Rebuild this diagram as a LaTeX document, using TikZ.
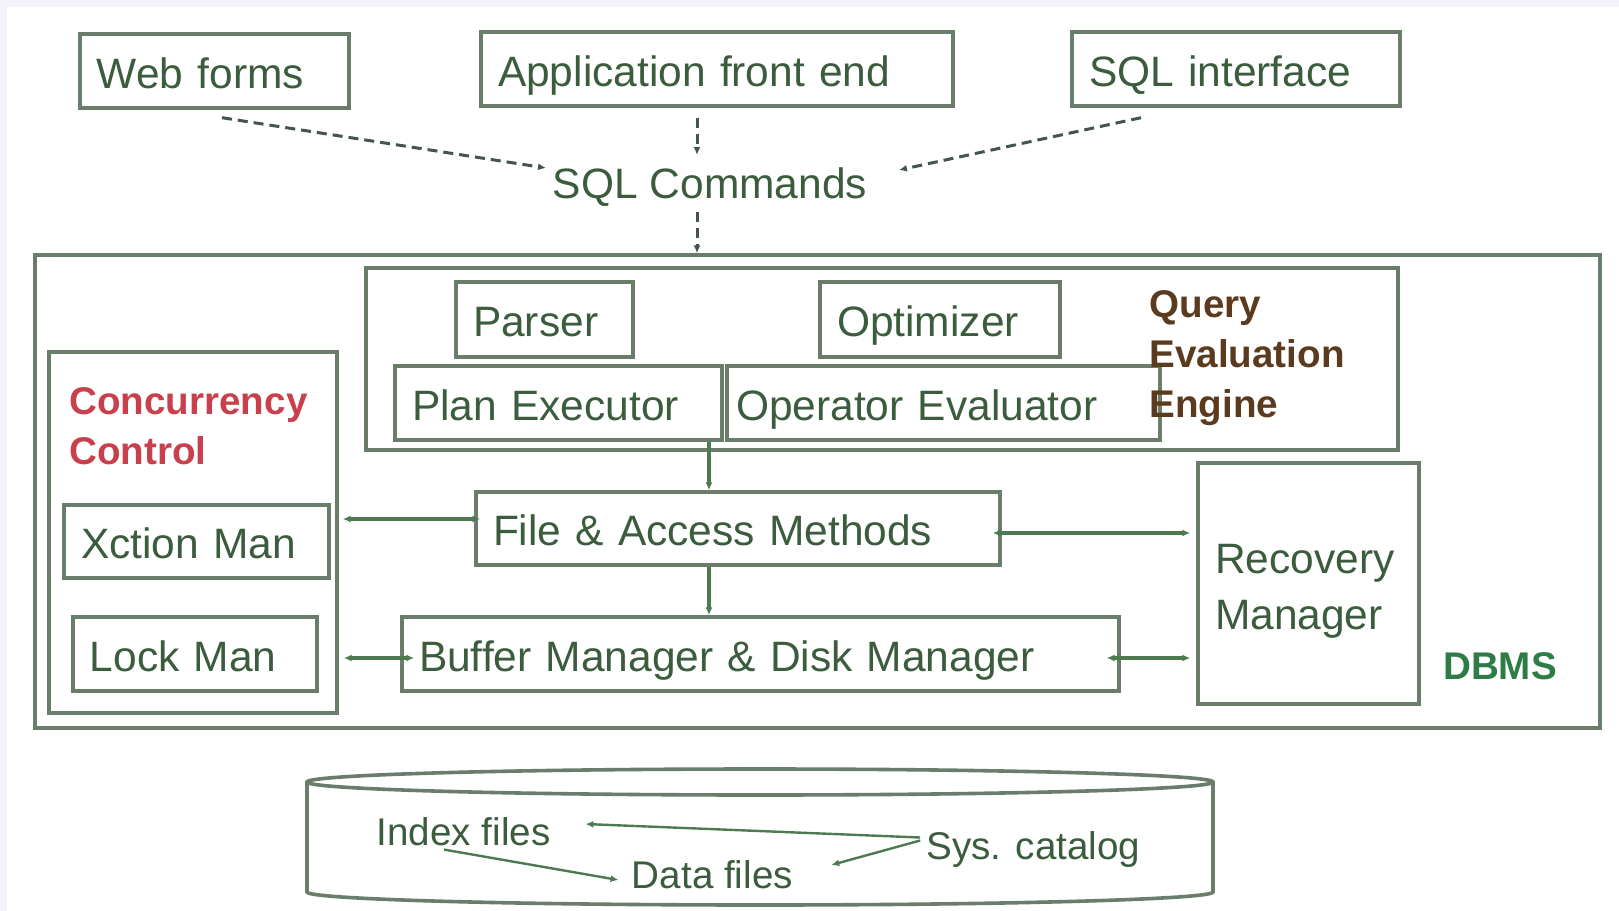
\documentclass[tikz,border=0pt]{standalone}
\usepackage{fontspec}
\setmainfont{Liberation Sans}
\usetikzlibrary{arrows.meta}
\definecolor{bglav}{HTML}{F3F3FC}
\definecolor{boxline}{HTML}{6A7C6A}
\definecolor{txtgreen}{HTML}{3B5C3D}
\definecolor{linkgreen}{HTML}{4E7A52}
\definecolor{dashgray}{HTML}{44554A}
\definecolor{qbrown}{HTML}{5C3A1E}
\definecolor{ccred}{HTML}{C9404D}
\definecolor{dbmsgreen}{HTML}{2E7D46}

\begin{document}
\begin{tikzpicture}[x=0.5pt,y=-0.5pt,
  box/.style={draw=boxline, line width=1.7pt, inner xsep=8.5pt, inner ysep=0pt, align=left,
    text height=21pt, text depth=4pt, text=txtgreen, font=\fontsize{21.25}{28}\selectfont},
  frame/.style={draw=boxline, line width=1.7pt, inner sep=0pt},
  tag/.style={inner sep=0pt, align=left, font=\bfseries\fontsize{19.3}{25}\selectfont},
  disk/.style={inner sep=0pt, text=txtgreen, font=\fontsize{19.3}{23}\selectfont},
  dashlink/.style={draw=dashgray, line width=1.5pt, dash pattern=on 5pt off 3pt, -{Latex[length=4pt,width=3.5pt]}},
  flow/.style={draw=linkgreen, line width=1.6pt, -{Latex[length=4pt,width=3.5pt]}},
  both/.style={flow, {Latex[length=4pt,width=3.5pt]}-{Latex[length=4pt,width=3.5pt]}},
  thin flow/.style={draw=linkgreen, line width=1.2pt, -{Latex[length=4pt,width=3.5pt]}}]
\useasboundingbox (0,0) rectangle (1619,911);
\fill [bglav] (0,0) rectangle (1619,911);
\fill [white] (7,7) rectangle (1619,911);

% front ends
\node [box, text width=117.5pt, minimum height=37pt] (web) at (214.5,71) {Web forms};
\node [box, text width=219pt, minimum height=37pt] (app) at (717,69) {Application front end};
\node [box, text width=147pt, minimum height=37pt] (sqli) at (1236,69) {SQL interface};
\node [inner sep=0pt, text=txtgreen, font=\fontsize{21.25}{25}\selectfont] (sql) at (710,187) {SQL Commands};

% dbms
\node [frame, minimum width=782.5pt, minimum height=236.5pt] (dbms) at (817.5,491.5) {};
\node [frame, minimum width=516pt, minimum height=91pt] (qe) at (882,359) {};
\node [frame, minimum width=144pt, minimum height=180.5pt] (cc) at (193,532.5) {};
\node [box, text width=71.5pt, minimum height=37.5pt] (parser) at (544.5,319.5) {Parser};
\node [box, text width=103pt, minimum height=37.5pt] (opt) at (940,319.5) {Optimizer};
\node [box, text width=146.5pt, minimum height=37pt] (plan) at (558.5,403) {Plan Executor};
\node [box, inner xsep=4.5pt, text width=207.5pt, minimum height=37pt] (oper) at (943.5,403) {Operator Evaluator};
\node [box, text width=115.5pt, minimum height=36.5pt] (xct) at (196.5,541.5) {Xction Man};
\node [box, text width=105pt, minimum height=37pt] (lock) at (195,654) {Lock Man};
\node [box, text width=245pt, minimum height=36.5pt] (file) at (738,528.5) {File \& Access Methods};
\node [box, text width=341.5pt, minimum height=37pt] (buf) at (760.5,654) {Buffer Manager \& Disk Manager};
\node [box, text width=93.5pt, minimum height=120.5pt, text height=16pt, text depth=25.6pt] (rec) at (1308.5,583.5) {Recovery\\Manager};
\node [tag, text=qbrown, anchor=west] (qlabel) at (1149,358) {Query\\Evaluation\\Engine};
\node [tag, text=ccred, anchor=west] (cclabel) at (69,426) {Concurrency\\Control};
\node [tag, text=dbmsgreen] (dbmslabel) at (1500,666) {DBMS};

% disk
\draw [boxline, line width=1.8pt] (760,782) ellipse [x radius=453, y radius=13];
\draw [boxline, line width=1.8pt] (307,782) -- (307,892) arc [start angle=180, end angle=0, x radius=453, y radius=13] -- (1213,782);
\node [disk] (idx) at (463.6,832) {Index files};
\node [disk] (data) at (712.4,875) {Data files};
\node [disk] (sys) at (1033.5,849.5) {Sys. catalog};

\draw [dashlink] ([shift={(7.5,8)}]web.south) -- ([shift={(-6.5,-19)}]sql.west);
\draw [dashlink] ([shift={(-20,10)}]app.south) -- ([shift={(-13,-32)}]sql.center);
\draw [dashlink] ([shift={(-95,10)}]sqli.south) -- ([shift={(31.5,-17)}]sql.east);
\draw [dashlink] ([shift={(-13,25)}]sql.center) -- ([shift={(-120.5,0)}]dbms.north);

\draw [flow] ([shift={(150.5,0)}]plan.south) -- ([shift={(-29,0)}]file.north);
\draw [flow] ([shift={(-29,0)}]file.south) -- ([shift={(-51.5,0)}]buf.north);
\draw [both] ([shift={(12,-22.5)}]xct.east) -- ([shift={(6,-9.5)}]file.west);
\draw [both] ([shift={(25,4)}]lock.east) -- ([shift={(14,4)}]buf.west);
\draw [both] ([shift={(-9,4.5)}]file.east) -- ([shift={(-6,-50.5)}]rec.west);
\draw [both] ([shift={(-14,4)}]buf.east) -- ([shift={(-6,74.5)}]rec.west);

\draw [thin flow] ([shift={(-6,-12)}]sys.west) -- ([shift={(34.5,-8)}]idx.east);
\draw [thin flow] ([shift={(-6,-9)}]sys.west) -- ([shift={(38,-10)}]data.east);
\draw [thin flow] ([shift={(-19.6,3)}]idx.south) -- ([shift={(-13,5)}]data.west);
\end{tikzpicture}
\end{document}
